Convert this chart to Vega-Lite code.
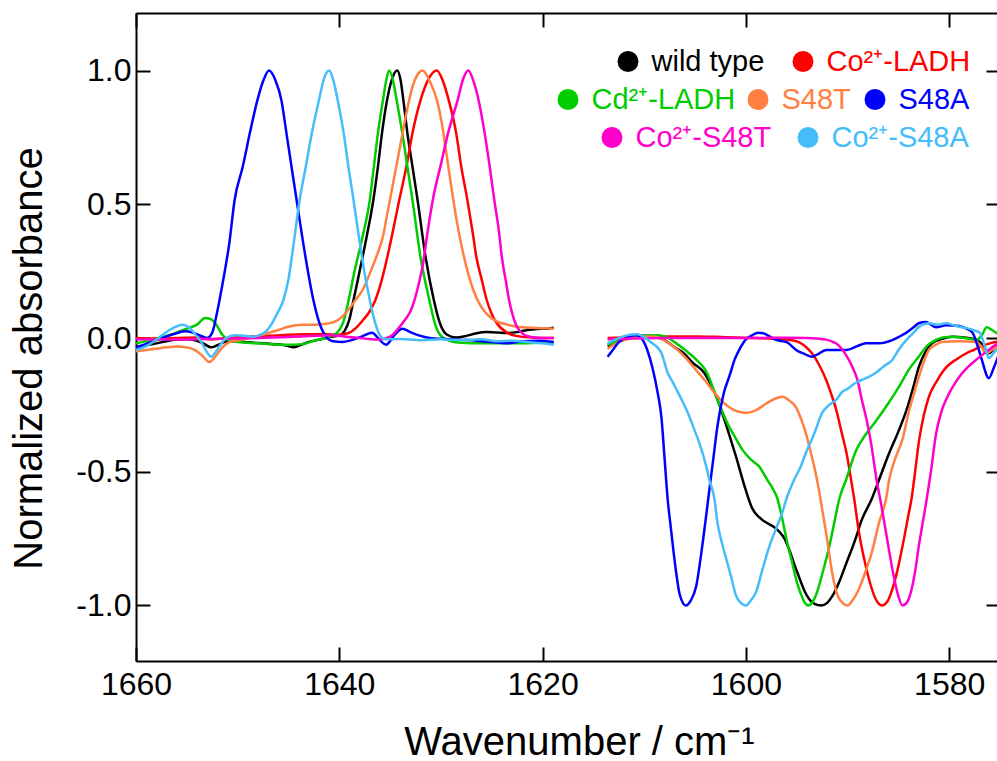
{
  "$schema": "https://vega.github.io/schema/vega-lite/v6.json",
  "width": 864,
  "height": 648,
  "autosize": {"type": "none"},
  "padding": {"left": 136, "top": 13, "right": 0, "bottom": 100},
  "background": "white",
  "config": {
    "font": "Liberation Sans",
    "view": {"stroke": null},
    "axis": {
      "domainColor": "#000000", "domainWidth": 2,
      "tickColor": "#000000", "tickWidth": 2, "tickSize": -14,
      "grid": false,
      "labelColor": "#000000", "labelFontSize": 32, "labelPadding": 22,
      "labelFlush": false, "labelOverlap": false,
      "titleColor": "#000000", "titleFontSize": 40, "titleFontWeight": "normal"
    },
    "legend": {
      "orient": "none", "direction": "horizontal", "title": null,
      "symbolType": "circle", "symbolSize": 110, "symbolStrokeWidth": 10.5,
      "labelFontSize": 29, "labelOffset": 9,
      "padding": 0, "labelLimit": 400
    }
  },
  "data": {
    "values": [
      {"sample":"wild type","seg":"L","wn":1660,"abs":-0.035},{"sample":"wild type","seg":"L","wn":1659,"abs":-0.028},{"sample":"wild type","seg":"L","wn":1658,"abs":-0.02},{"sample":"wild type","seg":"L","wn":1657,"abs":-0.012},{"sample":"wild type","seg":"L","wn":1656,"abs":-0.006},{"sample":"wild type","seg":"L","wn":1655,"abs":-0.005},{"sample":"wild type","seg":"L","wn":1654,"abs":-0.01},{"sample":"wild type","seg":"L","wn":1653.3,"abs":-0.022},{"sample":"wild type","seg":"L","wn":1652.6,"abs":-0.035},{"sample":"wild type","seg":"L","wn":1652,"abs":-0.027},{"sample":"wild type","seg":"L","wn":1651,"abs":-0.012},{"sample":"wild type","seg":"L","wn":1650,"abs":-0.013},{"sample":"wild type","seg":"L","wn":1649,"abs":-0.016},{"sample":"wild type","seg":"L","wn":1648,"abs":-0.019},{"sample":"wild type","seg":"L","wn":1647,"abs":-0.021},{"sample":"wild type","seg":"L","wn":1646,"abs":-0.024},{"sample":"wild type","seg":"L","wn":1645.2,"abs":-0.028},{"sample":"wild type","seg":"L","wn":1644.5,"abs":-0.035},{"sample":"wild type","seg":"L","wn":1643.8,"abs":-0.026},{"sample":"wild type","seg":"L","wn":1643,"abs":-0.015},{"sample":"wild type","seg":"L","wn":1642,"abs":-0.006},{"sample":"wild type","seg":"L","wn":1641,"abs":0.003},{"sample":"wild type","seg":"L","wn":1640,"abs":0.01},{"sample":"wild type","seg":"L","wn":1639.5,"abs":0.025},{"sample":"wild type","seg":"L","wn":1639,"abs":0.07},{"sample":"wild type","seg":"L","wn":1638.6,"abs":0.142},{"sample":"wild type","seg":"L","wn":1638,"abs":0.25},{"sample":"wild type","seg":"L","wn":1637.3,"abs":0.38},{"sample":"wild type","seg":"L","wn":1636.65,"abs":0.516},{"sample":"wild type","seg":"L","wn":1636.2,"abs":0.64},{"sample":"wild type","seg":"L","wn":1635.8,"abs":0.766},{"sample":"wild type","seg":"L","wn":1635.3,"abs":0.89},{"sample":"wild type","seg":"L","wn":1634.8,"abs":0.97},{"sample":"wild type","seg":"L","wn":1634.3,"abs":1.0},{"sample":"wild type","seg":"L","wn":1633.95,"abs":0.96},{"sample":"wild type","seg":"L","wn":1633.7,"abs":0.89},{"sample":"wild type","seg":"L","wn":1633.3,"abs":0.766},{"sample":"wild type","seg":"L","wn":1632.8,"abs":0.64},{"sample":"wild type","seg":"L","wn":1632.3,"abs":0.516},{"sample":"wild type","seg":"L","wn":1631.5,"abs":0.3},{"sample":"wild type","seg":"L","wn":1630.7,"abs":0.142},{"sample":"wild type","seg":"L","wn":1630.1,"abs":0.055},{"sample":"wild type","seg":"L","wn":1629.4,"abs":0.012},{"sample":"wild type","seg":"L","wn":1628.5,"abs":0.002},{"sample":"wild type","seg":"L","wn":1627.5,"abs":0.008},{"sample":"wild type","seg":"L","wn":1626.5,"abs":0.018},{"sample":"wild type","seg":"L","wn":1625.5,"abs":0.022},{"sample":"wild type","seg":"L","wn":1624.5,"abs":0.021},{"sample":"wild type","seg":"L","wn":1623.5,"abs":0.019},{"sample":"wild type","seg":"L","wn":1622.5,"abs":0.022},{"sample":"wild type","seg":"L","wn":1621.5,"abs":0.03},{"sample":"wild type","seg":"L","wn":1620.5,"abs":0.034},{"sample":"wild type","seg":"L","wn":1619.5,"abs":0.035},{"sample":"wild type","seg":"L","wn":1618.9,"abs":0.038},
      {"sample":"wild type","seg":"R","wn":1613.6,"abs":-0.03},{"sample":"wild type","seg":"R","wn":1612.5,"abs":-0.01},{"sample":"wild type","seg":"R","wn":1611.2,"abs":0.005},{"sample":"wild type","seg":"R","wn":1610,"abs":0.008},{"sample":"wild type","seg":"R","wn":1608.8,"abs":0.004},{"sample":"wild type","seg":"R","wn":1608,"abs":-0.008},{"sample":"wild type","seg":"R","wn":1607,"abs":-0.035},{"sample":"wild type","seg":"R","wn":1606,"abs":-0.06},{"sample":"wild type","seg":"R","wn":1605.3,"abs":-0.09},{"sample":"wild type","seg":"R","wn":1604.1,"abs":-0.13},{"sample":"wild type","seg":"R","wn":1603.5,"abs":-0.17},{"sample":"wild type","seg":"R","wn":1602.9,"abs":-0.22},{"sample":"wild type","seg":"R","wn":1601.9,"abs":-0.33},{"sample":"wild type","seg":"R","wn":1601,"abs":-0.44},{"sample":"wild type","seg":"R","wn":1600,"abs":-0.57},{"sample":"wild type","seg":"R","wn":1599.4,"abs":-0.635},{"sample":"wild type","seg":"R","wn":1598.7,"abs":-0.67},{"sample":"wild type","seg":"R","wn":1598,"abs":-0.69},{"sample":"wild type","seg":"R","wn":1597.3,"abs":-0.705},{"sample":"wild type","seg":"R","wn":1596.7,"abs":-0.725},{"sample":"wild type","seg":"R","wn":1596.2,"abs":-0.75},{"sample":"wild type","seg":"R","wn":1595.75,"abs":-0.79},{"sample":"wild type","seg":"R","wn":1595.2,"abs":-0.85},{"sample":"wild type","seg":"R","wn":1594.8,"abs":-0.89},{"sample":"wild type","seg":"R","wn":1594.3,"abs":-0.94},{"sample":"wild type","seg":"R","wn":1593.8,"abs":-0.975},{"sample":"wild type","seg":"R","wn":1593.2,"abs":-0.995},{"sample":"wild type","seg":"R","wn":1592.6,"abs":-1.0},{"sample":"wild type","seg":"R","wn":1592,"abs":-0.99},{"sample":"wild type","seg":"R","wn":1591.5,"abs":-0.965},{"sample":"wild type","seg":"R","wn":1590.8,"abs":-0.91},{"sample":"wild type","seg":"R","wn":1590.1,"abs":-0.84},{"sample":"wild type","seg":"R","wn":1589.3,"abs":-0.76},{"sample":"wild type","seg":"R","wn":1588.6,"abs":-0.68},{"sample":"wild type","seg":"R","wn":1587.6,"abs":-0.6},{"sample":"wild type","seg":"R","wn":1586.9,"abs":-0.53},{"sample":"wild type","seg":"R","wn":1585.9,"abs":-0.43},{"sample":"wild type","seg":"R","wn":1585,"abs":-0.35},{"sample":"wild type","seg":"R","wn":1584.2,"abs":-0.27},{"sample":"wild type","seg":"R","wn":1583.5,"abs":-0.18},{"sample":"wild type","seg":"R","wn":1583,"abs":-0.11},{"sample":"wild type","seg":"R","wn":1582.3,"abs":-0.05},{"sample":"wild type","seg":"R","wn":1581.7,"abs":-0.02},{"sample":"wild type","seg":"R","wn":1580.7,"abs":-0.003},{"sample":"wild type","seg":"R","wn":1579.7,"abs":0.005},{"sample":"wild type","seg":"R","wn":1578.5,"abs":0.002},{"sample":"wild type","seg":"R","wn":1577.3,"abs":-0.007},{"sample":"wild type","seg":"R","wn":1576.6,"abs":-0.03},{"sample":"wild type","seg":"R","wn":1576.1,"abs":-0.057},{"sample":"wild type","seg":"R","wn":1575.6,"abs":-0.04},{"sample":"wild type","seg":"R","wn":1575,"abs":-0.015},

      {"sample":"Co²⁺-LADH","seg":"L","wn":1660,"abs":0.0},{"sample":"Co²⁺-LADH","seg":"L","wn":1658,"abs":-0.002},{"sample":"Co²⁺-LADH","seg":"L","wn":1656,"abs":0.0},{"sample":"Co²⁺-LADH","seg":"L","wn":1654,"abs":0.002},{"sample":"Co²⁺-LADH","seg":"L","wn":1652.5,"abs":-0.005},{"sample":"Co²⁺-LADH","seg":"L","wn":1651,"abs":0.0},{"sample":"Co²⁺-LADH","seg":"L","wn":1649,"abs":0.005},{"sample":"Co²⁺-LADH","seg":"L","wn":1647,"abs":0.008},{"sample":"Co²⁺-LADH","seg":"L","wn":1645,"abs":0.012},{"sample":"Co²⁺-LADH","seg":"L","wn":1643,"abs":0.014},{"sample":"Co²⁺-LADH","seg":"L","wn":1641.5,"abs":0.015},{"sample":"Co²⁺-LADH","seg":"L","wn":1640,"abs":0.012},{"sample":"Co²⁺-LADH","seg":"L","wn":1639,"abs":0.02},{"sample":"Co²⁺-LADH","seg":"L","wn":1638.3,"abs":0.04},{"sample":"Co²⁺-LADH","seg":"L","wn":1637.6,"abs":0.07},{"sample":"Co²⁺-LADH","seg":"L","wn":1637,"abs":0.1},{"sample":"Co²⁺-LADH","seg":"L","wn":1636.45,"abs":0.142},{"sample":"Co²⁺-LADH","seg":"L","wn":1635.8,"abs":0.22},{"sample":"Co²⁺-LADH","seg":"L","wn":1635,"abs":0.35},{"sample":"Co²⁺-LADH","seg":"L","wn":1634.1,"abs":0.516},{"sample":"Co²⁺-LADH","seg":"L","wn":1633.4,"abs":0.64},{"sample":"Co²⁺-LADH","seg":"L","wn":1632.8,"abs":0.766},{"sample":"Co²⁺-LADH","seg":"L","wn":1632,"abs":0.89},{"sample":"Co²⁺-LADH","seg":"L","wn":1631.2,"abs":0.97},{"sample":"Co²⁺-LADH","seg":"L","wn":1630.4,"abs":1.0},{"sample":"Co²⁺-LADH","seg":"L","wn":1629.8,"abs":0.96},{"sample":"Co²⁺-LADH","seg":"L","wn":1629.24,"abs":0.89},{"sample":"Co²⁺-LADH","seg":"L","wn":1628.5,"abs":0.766},{"sample":"Co²⁺-LADH","seg":"L","wn":1628,"abs":0.64},{"sample":"Co²⁺-LADH","seg":"L","wn":1627.4,"abs":0.516},{"sample":"Co²⁺-LADH","seg":"L","wn":1626.9,"abs":0.4},{"sample":"Co²⁺-LADH","seg":"L","wn":1626.5,"abs":0.3},{"sample":"Co²⁺-LADH","seg":"L","wn":1626,"abs":0.22},{"sample":"Co²⁺-LADH","seg":"L","wn":1625.5,"abs":0.142},{"sample":"Co²⁺-LADH","seg":"L","wn":1625,"abs":0.09},{"sample":"Co²⁺-LADH","seg":"L","wn":1624.5,"abs":0.055},{"sample":"Co²⁺-LADH","seg":"L","wn":1623.5,"abs":0.02},{"sample":"Co²⁺-LADH","seg":"L","wn":1622.5,"abs":0.007},{"sample":"Co²⁺-LADH","seg":"L","wn":1621,"abs":0.002},{"sample":"Co²⁺-LADH","seg":"L","wn":1619.5,"abs":0.0},{"sample":"Co²⁺-LADH","seg":"L","wn":1618.9,"abs":0.0},
      {"sample":"Co²⁺-LADH","seg":"R","wn":1613.6,"abs":0.0},{"sample":"Co²⁺-LADH","seg":"R","wn":1611,"abs":0.004},{"sample":"Co²⁺-LADH","seg":"R","wn":1608,"abs":0.006},{"sample":"Co²⁺-LADH","seg":"R","wn":1605,"abs":0.006},{"sample":"Co²⁺-LADH","seg":"R","wn":1602,"abs":0.003},{"sample":"Co²⁺-LADH","seg":"R","wn":1599,"abs":0.0},{"sample":"Co²⁺-LADH","seg":"R","wn":1597,"abs":-0.004},{"sample":"Co²⁺-LADH","seg":"R","wn":1595.5,"abs":-0.008},{"sample":"Co²⁺-LADH","seg":"R","wn":1594.8,"abs":-0.015},{"sample":"Co²⁺-LADH","seg":"R","wn":1594.2,"abs":-0.03},{"sample":"Co²⁺-LADH","seg":"R","wn":1593.5,"abs":-0.057},{"sample":"Co²⁺-LADH","seg":"R","wn":1592.8,"abs":-0.1},{"sample":"Co²⁺-LADH","seg":"R","wn":1592.1,"abs":-0.157},{"sample":"Co²⁺-LADH","seg":"R","wn":1591.6,"abs":-0.21},{"sample":"Co²⁺-LADH","seg":"R","wn":1591.1,"abs":-0.27},{"sample":"Co²⁺-LADH","seg":"R","wn":1590.6,"abs":-0.35},{"sample":"Co²⁺-LADH","seg":"R","wn":1590.1,"abs":-0.43},{"sample":"Co²⁺-LADH","seg":"R","wn":1589.65,"abs":-0.53},{"sample":"Co²⁺-LADH","seg":"R","wn":1589.35,"abs":-0.6},{"sample":"Co²⁺-LADH","seg":"R","wn":1588.9,"abs":-0.72},{"sample":"Co²⁺-LADH","seg":"R","wn":1588.4,"abs":-0.82},{"sample":"Co²⁺-LADH","seg":"R","wn":1587.9,"abs":-0.9},{"sample":"Co²⁺-LADH","seg":"R","wn":1587.3,"abs":-0.97},{"sample":"Co²⁺-LADH","seg":"R","wn":1586.6,"abs":-1.0},{"sample":"Co²⁺-LADH","seg":"R","wn":1586,"abs":-0.98},{"sample":"Co²⁺-LADH","seg":"R","wn":1585.6,"abs":-0.94},{"sample":"Co²⁺-LADH","seg":"R","wn":1585.1,"abs":-0.87},{"sample":"Co²⁺-LADH","seg":"R","wn":1584.6,"abs":-0.78},{"sample":"Co²⁺-LADH","seg":"R","wn":1584,"abs":-0.66},{"sample":"Co²⁺-LADH","seg":"R","wn":1583.7,"abs":-0.6},{"sample":"Co²⁺-LADH","seg":"R","wn":1583.45,"abs":-0.53},{"sample":"Co²⁺-LADH","seg":"R","wn":1582.95,"abs":-0.38},{"sample":"Co²⁺-LADH","seg":"R","wn":1582.5,"abs":-0.29},{"sample":"Co²⁺-LADH","seg":"R","wn":1582,"abs":-0.22},{"sample":"Co²⁺-LADH","seg":"R","wn":1581.2,"abs":-0.16},{"sample":"Co²⁺-LADH","seg":"R","wn":1580.3,"abs":-0.11},{"sample":"Co²⁺-LADH","seg":"R","wn":1579.3,"abs":-0.08},{"sample":"Co²⁺-LADH","seg":"R","wn":1578.3,"abs":-0.057},{"sample":"Co²⁺-LADH","seg":"R","wn":1577.5,"abs":-0.043},{"sample":"Co²⁺-LADH","seg":"R","wn":1576.8,"abs":-0.03},{"sample":"Co²⁺-LADH","seg":"R","wn":1576,"abs":-0.02},{"sample":"Co²⁺-LADH","seg":"R","wn":1575,"abs":-0.012},

      {"sample":"Cd²⁺-LADH","seg":"L","wn":1660,"abs":-0.02},{"sample":"Cd²⁺-LADH","seg":"L","wn":1659,"abs":-0.012},{"sample":"Cd²⁺-LADH","seg":"L","wn":1658,"abs":-0.004},{"sample":"Cd²⁺-LADH","seg":"L","wn":1657,"abs":0.008},{"sample":"Cd²⁺-LADH","seg":"L","wn":1656,"abs":0.02},{"sample":"Cd²⁺-LADH","seg":"L","wn":1655,"abs":0.035},{"sample":"Cd²⁺-LADH","seg":"L","wn":1654,"abs":0.05},{"sample":"Cd²⁺-LADH","seg":"L","wn":1653.2,"abs":0.075},{"sample":"Cd²⁺-LADH","seg":"L","wn":1652.6,"abs":0.07},{"sample":"Cd²⁺-LADH","seg":"L","wn":1652.1,"abs":0.05},{"sample":"Cd²⁺-LADH","seg":"L","wn":1651.5,"abs":0.012},{"sample":"Cd²⁺-LADH","seg":"L","wn":1651,"abs":-0.005},{"sample":"Cd²⁺-LADH","seg":"L","wn":1650,"abs":-0.015},{"sample":"Cd²⁺-LADH","seg":"L","wn":1649,"abs":-0.018},{"sample":"Cd²⁺-LADH","seg":"L","wn":1648,"abs":-0.02},{"sample":"Cd²⁺-LADH","seg":"L","wn":1647,"abs":-0.022},{"sample":"Cd²⁺-LADH","seg":"L","wn":1646,"abs":-0.025},{"sample":"Cd²⁺-LADH","seg":"L","wn":1645,"abs":-0.025},{"sample":"Cd²⁺-LADH","seg":"L","wn":1644,"abs":-0.024},{"sample":"Cd²⁺-LADH","seg":"L","wn":1643.3,"abs":-0.02},{"sample":"Cd²⁺-LADH","seg":"L","wn":1642.5,"abs":-0.01},{"sample":"Cd²⁺-LADH","seg":"L","wn":1641.5,"abs":-0.002},{"sample":"Cd²⁺-LADH","seg":"L","wn":1640.8,"abs":0.008},{"sample":"Cd²⁺-LADH","seg":"L","wn":1640.2,"abs":0.02},{"sample":"Cd²⁺-LADH","seg":"L","wn":1639.6,"abs":0.06},{"sample":"Cd²⁺-LADH","seg":"L","wn":1639.08,"abs":0.142},{"sample":"Cd²⁺-LADH","seg":"L","wn":1638.5,"abs":0.25},{"sample":"Cd²⁺-LADH","seg":"L","wn":1637.7,"abs":0.38},{"sample":"Cd²⁺-LADH","seg":"L","wn":1637,"abs":0.516},{"sample":"Cd²⁺-LADH","seg":"L","wn":1636.6,"abs":0.64},{"sample":"Cd²⁺-LADH","seg":"L","wn":1636.2,"abs":0.766},{"sample":"Cd²⁺-LADH","seg":"L","wn":1635.7,"abs":0.89},{"sample":"Cd²⁺-LADH","seg":"L","wn":1635.4,"abs":0.96},{"sample":"Cd²⁺-LADH","seg":"L","wn":1635.1,"abs":1.0},{"sample":"Cd²⁺-LADH","seg":"L","wn":1634.7,"abs":0.96},{"sample":"Cd²⁺-LADH","seg":"L","wn":1634.36,"abs":0.89},{"sample":"Cd²⁺-LADH","seg":"L","wn":1633.8,"abs":0.766},{"sample":"Cd²⁺-LADH","seg":"L","wn":1633.3,"abs":0.64},{"sample":"Cd²⁺-LADH","seg":"L","wn":1632.8,"abs":0.516},{"sample":"Cd²⁺-LADH","seg":"L","wn":1632,"abs":0.3},{"sample":"Cd²⁺-LADH","seg":"L","wn":1631.14,"abs":0.142},{"sample":"Cd²⁺-LADH","seg":"L","wn":1630.6,"abs":0.055},{"sample":"Cd²⁺-LADH","seg":"L","wn":1630,"abs":0.008},{"sample":"Cd²⁺-LADH","seg":"L","wn":1629,"abs":-0.012},{"sample":"Cd²⁺-LADH","seg":"L","wn":1628,"abs":-0.018},{"sample":"Cd²⁺-LADH","seg":"L","wn":1626,"abs":-0.02},{"sample":"Cd²⁺-LADH","seg":"L","wn":1624,"abs":-0.02},{"sample":"Cd²⁺-LADH","seg":"L","wn":1622,"abs":-0.02},{"sample":"Cd²⁺-LADH","seg":"L","wn":1620,"abs":-0.018},{"sample":"Cd²⁺-LADH","seg":"L","wn":1618.9,"abs":-0.018},
      {"sample":"Cd²⁺-LADH","seg":"R","wn":1613.6,"abs":-0.025},{"sample":"Cd²⁺-LADH","seg":"R","wn":1612.5,"abs":-0.012},{"sample":"Cd²⁺-LADH","seg":"R","wn":1611.2,"abs":0.0},{"sample":"Cd²⁺-LADH","seg":"R","wn":1610,"abs":0.008},{"sample":"Cd²⁺-LADH","seg":"R","wn":1608.8,"abs":0.01},{"sample":"Cd²⁺-LADH","seg":"R","wn":1608,"abs":0.006},{"sample":"Cd²⁺-LADH","seg":"R","wn":1606.85,"abs":-0.02},{"sample":"Cd²⁺-LADH","seg":"R","wn":1605.8,"abs":-0.05},{"sample":"Cd²⁺-LADH","seg":"R","wn":1604.9,"abs":-0.08},{"sample":"Cd²⁺-LADH","seg":"R","wn":1603.9,"abs":-0.125},{"sample":"Cd²⁺-LADH","seg":"R","wn":1602.9,"abs":-0.22},{"sample":"Cd²⁺-LADH","seg":"R","wn":1601.8,"abs":-0.32},{"sample":"Cd²⁺-LADH","seg":"R","wn":1601,"abs":-0.375},{"sample":"Cd²⁺-LADH","seg":"R","wn":1600.3,"abs":-0.42},{"sample":"Cd²⁺-LADH","seg":"R","wn":1599.5,"abs":-0.455},{"sample":"Cd²⁺-LADH","seg":"R","wn":1598.7,"abs":-0.48},{"sample":"Cd²⁺-LADH","seg":"R","wn":1597.9,"abs":-0.53},{"sample":"Cd²⁺-LADH","seg":"R","wn":1597.4,"abs":-0.56},{"sample":"Cd²⁺-LADH","seg":"R","wn":1596.9,"abs":-0.6},{"sample":"Cd²⁺-LADH","seg":"R","wn":1596.4,"abs":-0.68},{"sample":"Cd²⁺-LADH","seg":"R","wn":1595.9,"abs":-0.77},{"sample":"Cd²⁺-LADH","seg":"R","wn":1595.44,"abs":-0.84},{"sample":"Cd²⁺-LADH","seg":"R","wn":1595,"abs":-0.91},{"sample":"Cd²⁺-LADH","seg":"R","wn":1594.56,"abs":-0.96},{"sample":"Cd²⁺-LADH","seg":"R","wn":1594.2,"abs":-0.99},{"sample":"Cd²⁺-LADH","seg":"R","wn":1593.87,"abs":-1.0},{"sample":"Cd²⁺-LADH","seg":"R","wn":1593.4,"abs":-0.985},{"sample":"Cd²⁺-LADH","seg":"R","wn":1593,"abs":-0.95},{"sample":"Cd²⁺-LADH","seg":"R","wn":1592.4,"abs":-0.87},{"sample":"Cd²⁺-LADH","seg":"R","wn":1591.8,"abs":-0.78},{"sample":"Cd²⁺-LADH","seg":"R","wn":1591.3,"abs":-0.69},{"sample":"Cd²⁺-LADH","seg":"R","wn":1590.8,"abs":-0.6},{"sample":"Cd²⁺-LADH","seg":"R","wn":1590.14,"abs":-0.53},{"sample":"Cd²⁺-LADH","seg":"R","wn":1589.15,"abs":-0.42},{"sample":"Cd²⁺-LADH","seg":"R","wn":1588.2,"abs":-0.36},{"sample":"Cd²⁺-LADH","seg":"R","wn":1587.2,"abs":-0.31},{"sample":"Cd²⁺-LADH","seg":"R","wn":1586,"abs":-0.245},{"sample":"Cd²⁺-LADH","seg":"R","wn":1584.9,"abs":-0.18},{"sample":"Cd²⁺-LADH","seg":"R","wn":1584,"abs":-0.12},{"sample":"Cd²⁺-LADH","seg":"R","wn":1583,"abs":-0.07},{"sample":"Cd²⁺-LADH","seg":"R","wn":1582.2,"abs":-0.03},{"sample":"Cd²⁺-LADH","seg":"R","wn":1581.3,"abs":-0.007},{"sample":"Cd²⁺-LADH","seg":"R","wn":1580.5,"abs":0.003},{"sample":"Cd²⁺-LADH","seg":"R","wn":1579.7,"abs":0.005},{"sample":"Cd²⁺-LADH","seg":"R","wn":1578.5,"abs":0.0},{"sample":"Cd²⁺-LADH","seg":"R","wn":1577.3,"abs":-0.007},{"sample":"Cd²⁺-LADH","seg":"R","wn":1576.8,"abs":0.01},{"sample":"Cd²⁺-LADH","seg":"R","wn":1576.3,"abs":0.04},{"sample":"Cd²⁺-LADH","seg":"R","wn":1575.8,"abs":0.03},{"sample":"Cd²⁺-LADH","seg":"R","wn":1575,"abs":0.01},

      {"sample":"S48T","seg":"L","wn":1660,"abs":-0.05},{"sample":"S48T","seg":"L","wn":1659,"abs":-0.045},{"sample":"S48T","seg":"L","wn":1658,"abs":-0.04},{"sample":"S48T","seg":"L","wn":1657,"abs":-0.035},{"sample":"S48T","seg":"L","wn":1656,"abs":-0.032},{"sample":"S48T","seg":"L","wn":1655,"abs":-0.035},{"sample":"S48T","seg":"L","wn":1654.2,"abs":-0.045},{"sample":"S48T","seg":"L","wn":1653.5,"abs":-0.065},{"sample":"S48T","seg":"L","wn":1652.8,"abs":-0.09},{"sample":"S48T","seg":"L","wn":1652.2,"abs":-0.07},{"sample":"S48T","seg":"L","wn":1651.5,"abs":-0.035},{"sample":"S48T","seg":"L","wn":1650.8,"abs":-0.015},{"sample":"S48T","seg":"L","wn":1649.8,"abs":-0.008},{"sample":"S48T","seg":"L","wn":1648.5,"abs":0.003},{"sample":"S48T","seg":"L","wn":1647.5,"abs":0.013},{"sample":"S48T","seg":"L","wn":1646.9,"abs":0.02},{"sample":"S48T","seg":"L","wn":1646,"abs":0.03},{"sample":"S48T","seg":"L","wn":1645.2,"abs":0.04},{"sample":"S48T","seg":"L","wn":1644.3,"abs":0.048},{"sample":"S48T","seg":"L","wn":1643.5,"abs":0.05},{"sample":"S48T","seg":"L","wn":1642.5,"abs":0.05},{"sample":"S48T","seg":"L","wn":1641.5,"abs":0.052},{"sample":"S48T","seg":"L","wn":1640.5,"abs":0.06},{"sample":"S48T","seg":"L","wn":1639.7,"abs":0.08},{"sample":"S48T","seg":"L","wn":1639,"abs":0.11},{"sample":"S48T","seg":"L","wn":1638.4,"abs":0.142},{"sample":"S48T","seg":"L","wn":1637.7,"abs":0.18},{"sample":"S48T","seg":"L","wn":1636.8,"abs":0.26},{"sample":"S48T","seg":"L","wn":1636.2,"abs":0.32},{"sample":"S48T","seg":"L","wn":1635.7,"abs":0.38},{"sample":"S48T","seg":"L","wn":1635.3,"abs":0.46},{"sample":"S48T","seg":"L","wn":1635,"abs":0.52},{"sample":"S48T","seg":"L","wn":1634.5,"abs":0.62},{"sample":"S48T","seg":"L","wn":1634.1,"abs":0.7},{"sample":"S48T","seg":"L","wn":1633.4,"abs":0.84},{"sample":"S48T","seg":"L","wn":1632.8,"abs":0.94},{"sample":"S48T","seg":"L","wn":1632.3,"abs":0.985},{"sample":"S48T","seg":"L","wn":1631.8,"abs":1.0},{"sample":"S48T","seg":"L","wn":1631.1,"abs":0.96},{"sample":"S48T","seg":"L","wn":1630.4,"abs":0.89},{"sample":"S48T","seg":"L","wn":1629.9,"abs":0.8},{"sample":"S48T","seg":"L","wn":1629.5,"abs":0.7},{"sample":"S48T","seg":"L","wn":1629,"abs":0.57},{"sample":"S48T","seg":"L","wn":1628.5,"abs":0.45},{"sample":"S48T","seg":"L","wn":1628,"abs":0.35},{"sample":"S48T","seg":"L","wn":1627.5,"abs":0.267},{"sample":"S48T","seg":"L","wn":1627,"abs":0.2},{"sample":"S48T","seg":"L","wn":1626.5,"abs":0.15},{"sample":"S48T","seg":"L","wn":1626,"abs":0.115},{"sample":"S48T","seg":"L","wn":1625.5,"abs":0.09},{"sample":"S48T","seg":"L","wn":1624.5,"abs":0.062},{"sample":"S48T","seg":"L","wn":1623.5,"abs":0.05},{"sample":"S48T","seg":"L","wn":1622.5,"abs":0.042},{"sample":"S48T","seg":"L","wn":1621,"abs":0.038},{"sample":"S48T","seg":"L","wn":1619.5,"abs":0.036},{"sample":"S48T","seg":"L","wn":1618.9,"abs":0.035},
      {"sample":"S48T","seg":"R","wn":1613.6,"abs":-0.04},{"sample":"S48T","seg":"R","wn":1612.5,"abs":-0.015},{"sample":"S48T","seg":"R","wn":1611.2,"abs":0.0},{"sample":"S48T","seg":"R","wn":1610,"abs":0.006},{"sample":"S48T","seg":"R","wn":1608.8,"abs":0.005},{"sample":"S48T","seg":"R","wn":1608,"abs":-0.01},{"sample":"S48T","seg":"R","wn":1606.85,"abs":-0.04},{"sample":"S48T","seg":"R","wn":1605.9,"abs":-0.075},{"sample":"S48T","seg":"R","wn":1604.9,"abs":-0.12},{"sample":"S48T","seg":"R","wn":1604,"abs":-0.16},{"sample":"S48T","seg":"R","wn":1603.3,"abs":-0.195},{"sample":"S48T","seg":"R","wn":1602.5,"abs":-0.23},{"sample":"S48T","seg":"R","wn":1601.6,"abs":-0.26},{"sample":"S48T","seg":"R","wn":1600.8,"abs":-0.275},{"sample":"S48T","seg":"R","wn":1599.9,"abs":-0.28},{"sample":"S48T","seg":"R","wn":1599,"abs":-0.27},{"sample":"S48T","seg":"R","wn":1598,"abs":-0.245},{"sample":"S48T","seg":"R","wn":1597.2,"abs":-0.228},{"sample":"S48T","seg":"R","wn":1596.4,"abs":-0.22},{"sample":"S48T","seg":"R","wn":1595.7,"abs":-0.235},{"sample":"S48T","seg":"R","wn":1595.05,"abs":-0.26},{"sample":"S48T","seg":"R","wn":1594.5,"abs":-0.31},{"sample":"S48T","seg":"R","wn":1594.07,"abs":-0.36},{"sample":"S48T","seg":"R","wn":1593.6,"abs":-0.43},{"sample":"S48T","seg":"R","wn":1593.28,"abs":-0.48},{"sample":"S48T","seg":"R","wn":1592.9,"abs":-0.55},{"sample":"S48T","seg":"R","wn":1592.5,"abs":-0.64},{"sample":"S48T","seg":"R","wn":1592.1,"abs":-0.73},{"sample":"S48T","seg":"R","wn":1591.5,"abs":-0.88},{"sample":"S48T","seg":"R","wn":1591,"abs":-0.96},{"sample":"S48T","seg":"R","wn":1590.5,"abs":-0.99},{"sample":"S48T","seg":"R","wn":1590,"abs":-1.0},{"sample":"S48T","seg":"R","wn":1589.5,"abs":-0.98},{"sample":"S48T","seg":"R","wn":1588.9,"abs":-0.94},{"sample":"S48T","seg":"R","wn":1588.2,"abs":-0.87},{"sample":"S48T","seg":"R","wn":1587.6,"abs":-0.8},{"sample":"S48T","seg":"R","wn":1586.9,"abs":-0.69},{"sample":"S48T","seg":"R","wn":1586.2,"abs":-0.6},{"sample":"S48T","seg":"R","wn":1585.9,"abs":-0.53},{"sample":"S48T","seg":"R","wn":1585.3,"abs":-0.45},{"sample":"S48T","seg":"R","wn":1584.6,"abs":-0.38},{"sample":"S48T","seg":"R","wn":1584,"abs":-0.28},{"sample":"S48T","seg":"R","wn":1583.25,"abs":-0.18},{"sample":"S48T","seg":"R","wn":1582.6,"abs":-0.1},{"sample":"S48T","seg":"R","wn":1582,"abs":-0.045},{"sample":"S48T","seg":"R","wn":1581.3,"abs":-0.025},{"sample":"S48T","seg":"R","wn":1580.7,"abs":-0.015},{"sample":"S48T","seg":"R","wn":1579,"abs":-0.012},{"sample":"S48T","seg":"R","wn":1577.3,"abs":-0.015},{"sample":"S48T","seg":"R","wn":1576.8,"abs":-0.035},{"sample":"S48T","seg":"R","wn":1576.4,"abs":-0.057},{"sample":"S48T","seg":"R","wn":1575.8,"abs":-0.045},{"sample":"S48T","seg":"R","wn":1575,"abs":-0.025},

      {"sample":"S48A","seg":"L","wn":1660,"abs":-0.035},{"sample":"S48A","seg":"L","wn":1659,"abs":-0.022},{"sample":"S48A","seg":"L","wn":1658,"abs":-0.008},{"sample":"S48A","seg":"L","wn":1657,"abs":0.006},{"sample":"S48A","seg":"L","wn":1656,"abs":0.018},{"sample":"S48A","seg":"L","wn":1655.2,"abs":0.025},{"sample":"S48A","seg":"L","wn":1654.4,"abs":0.02},{"sample":"S48A","seg":"L","wn":1653.6,"abs":0.008},{"sample":"S48A","seg":"L","wn":1653,"abs":0.0},{"sample":"S48A","seg":"L","wn":1652.5,"abs":0.02},{"sample":"S48A","seg":"L","wn":1652,"abs":0.1},{"sample":"S48A","seg":"L","wn":1651.5,"abs":0.2},{"sample":"S48A","seg":"L","wn":1650.8,"abs":0.36},{"sample":"S48A","seg":"L","wn":1650.3,"abs":0.516},{"sample":"S48A","seg":"L","wn":1649.5,"abs":0.64},{"sample":"S48A","seg":"L","wn":1648.8,"abs":0.766},{"sample":"S48A","seg":"L","wn":1648.05,"abs":0.89},{"sample":"S48A","seg":"L","wn":1647.5,"abs":0.96},{"sample":"S48A","seg":"L","wn":1646.9,"abs":1.0},{"sample":"S48A","seg":"L","wn":1646.3,"abs":0.965},{"sample":"S48A","seg":"L","wn":1645.7,"abs":0.89},{"sample":"S48A","seg":"L","wn":1645.2,"abs":0.766},{"sample":"S48A","seg":"L","wn":1644.7,"abs":0.64},{"sample":"S48A","seg":"L","wn":1644.2,"abs":0.516},{"sample":"S48A","seg":"L","wn":1643.4,"abs":0.32},{"sample":"S48A","seg":"L","wn":1642.55,"abs":0.142},{"sample":"S48A","seg":"L","wn":1641.9,"abs":0.05},{"sample":"S48A","seg":"L","wn":1641.3,"abs":0.005},{"sample":"S48A","seg":"L","wn":1640.6,"abs":-0.012},{"sample":"S48A","seg":"L","wn":1639.7,"abs":-0.015},{"sample":"S48A","seg":"L","wn":1638.8,"abs":-0.008},{"sample":"S48A","seg":"L","wn":1637.8,"abs":0.005},{"sample":"S48A","seg":"L","wn":1636.75,"abs":0.02},{"sample":"S48A","seg":"L","wn":1636.2,"abs":0.0},{"sample":"S48A","seg":"L","wn":1635.4,"abs":-0.025},{"sample":"S48A","seg":"L","wn":1634.6,"abs":0.01},{"sample":"S48A","seg":"L","wn":1633.8,"abs":0.035},{"sample":"S48A","seg":"L","wn":1633,"abs":0.022},{"sample":"S48A","seg":"L","wn":1632,"abs":0.008},{"sample":"S48A","seg":"L","wn":1631.1,"abs":0.0},{"sample":"S48A","seg":"L","wn":1629.5,"abs":-0.004},{"sample":"S48A","seg":"L","wn":1628,"abs":-0.007},{"sample":"S48A","seg":"L","wn":1626.5,"abs":-0.01},{"sample":"S48A","seg":"L","wn":1625,"abs":-0.015},{"sample":"S48A","seg":"L","wn":1623.6,"abs":-0.02},{"sample":"S48A","seg":"L","wn":1622,"abs":-0.012},{"sample":"S48A","seg":"L","wn":1620.5,"abs":-0.01},{"sample":"S48A","seg":"L","wn":1618.9,"abs":-0.015},
      {"sample":"S48A","seg":"R","wn":1613.6,"abs":-0.07},{"sample":"S48A","seg":"R","wn":1613,"abs":-0.04},{"sample":"S48A","seg":"R","wn":1612.5,"abs":-0.015},{"sample":"S48A","seg":"R","wn":1611.5,"abs":0.005},{"sample":"S48A","seg":"R","wn":1610.8,"abs":0.01},{"sample":"S48A","seg":"R","wn":1610.2,"abs":-0.005},{"sample":"S48A","seg":"R","wn":1609.7,"abs":-0.045},{"sample":"S48A","seg":"R","wn":1609.2,"abs":-0.11},{"sample":"S48A","seg":"R","wn":1608.7,"abs":-0.2},{"sample":"S48A","seg":"R","wn":1608.3,"abs":-0.3},{"sample":"S48A","seg":"R","wn":1608,"abs":-0.45},{"sample":"S48A","seg":"R","wn":1607.7,"abs":-0.6},{"sample":"S48A","seg":"R","wn":1607.35,"abs":-0.72},{"sample":"S48A","seg":"R","wn":1606.95,"abs":-0.85},{"sample":"S48A","seg":"R","wn":1606.5,"abs":-0.96},{"sample":"S48A","seg":"R","wn":1605.9,"abs":-1.0},{"sample":"S48A","seg":"R","wn":1605.4,"abs":-0.98},{"sample":"S48A","seg":"R","wn":1604.9,"abs":-0.93},{"sample":"S48A","seg":"R","wn":1604.3,"abs":-0.78},{"sample":"S48A","seg":"R","wn":1603.6,"abs":-0.57},{"sample":"S48A","seg":"R","wn":1603.2,"abs":-0.45},{"sample":"S48A","seg":"R","wn":1602.8,"abs":-0.33},{"sample":"S48A","seg":"R","wn":1602.2,"abs":-0.21},{"sample":"S48A","seg":"R","wn":1601.6,"abs":-0.14},{"sample":"S48A","seg":"R","wn":1601.1,"abs":-0.08},{"sample":"S48A","seg":"R","wn":1600.6,"abs":-0.04},{"sample":"S48A","seg":"R","wn":1600,"abs":-0.005},{"sample":"S48A","seg":"R","wn":1599.4,"abs":0.01},{"sample":"S48A","seg":"R","wn":1598.8,"abs":0.02},{"sample":"S48A","seg":"R","wn":1598.3,"abs":0.018},{"sample":"S48A","seg":"R","wn":1597.4,"abs":0.0},{"sample":"S48A","seg":"R","wn":1596.7,"abs":-0.01},{"sample":"S48A","seg":"R","wn":1596,"abs":-0.015},{"sample":"S48A","seg":"R","wn":1595.5,"abs":-0.03},{"sample":"S48A","seg":"R","wn":1595.05,"abs":-0.045},{"sample":"S48A","seg":"R","wn":1594.2,"abs":-0.06},{"sample":"S48A","seg":"R","wn":1593.5,"abs":-0.07},{"sample":"S48A","seg":"R","wn":1592.8,"abs":-0.058},{"sample":"S48A","seg":"R","wn":1592.1,"abs":-0.045},{"sample":"S48A","seg":"R","wn":1591,"abs":-0.045},{"sample":"S48A","seg":"R","wn":1590.1,"abs":-0.045},{"sample":"S48A","seg":"R","wn":1589,"abs":-0.03},{"sample":"S48A","seg":"R","wn":1588.2,"abs":-0.02},{"sample":"S48A","seg":"R","wn":1586.9,"abs":-0.02},{"sample":"S48A","seg":"R","wn":1585.6,"abs":-0.008},{"sample":"S48A","seg":"R","wn":1584.9,"abs":0.005},{"sample":"S48A","seg":"R","wn":1584.2,"abs":0.02},{"sample":"S48A","seg":"R","wn":1583.5,"abs":0.04},{"sample":"S48A","seg":"R","wn":1583,"abs":0.055},{"sample":"S48A","seg":"R","wn":1582.3,"abs":0.06},{"sample":"S48A","seg":"R","wn":1581.3,"abs":0.04},{"sample":"S48A","seg":"R","wn":1580.3,"abs":0.048},{"sample":"S48A","seg":"R","wn":1579,"abs":0.045},{"sample":"S48A","seg":"R","wn":1578.3,"abs":0.035},{"sample":"S48A","seg":"R","wn":1577.7,"abs":0.02},{"sample":"S48A","seg":"R","wn":1577.2,"abs":-0.03},{"sample":"S48A","seg":"R","wn":1576.8,"abs":-0.08},{"sample":"S48A","seg":"R","wn":1576.1,"abs":-0.15},{"sample":"S48A","seg":"R","wn":1575.6,"abs":-0.11},{"sample":"S48A","seg":"R","wn":1575,"abs":-0.05},

      {"sample":"Co²⁺-S48T","seg":"L","wn":1660,"abs":-0.005},{"sample":"Co²⁺-S48T","seg":"L","wn":1657,"abs":-0.006},{"sample":"Co²⁺-S48T","seg":"L","wn":1654,"abs":-0.005},{"sample":"Co²⁺-S48T","seg":"L","wn":1651,"abs":-0.003},{"sample":"Co²⁺-S48T","seg":"L","wn":1648,"abs":0.0},{"sample":"Co²⁺-S48T","seg":"L","wn":1645,"abs":0.004},{"sample":"Co²⁺-S48T","seg":"L","wn":1642.5,"abs":0.008},{"sample":"Co²⁺-S48T","seg":"L","wn":1641,"abs":0.01},{"sample":"Co²⁺-S48T","seg":"L","wn":1639.5,"abs":0.006},{"sample":"Co²⁺-S48T","seg":"L","wn":1638,"abs":0.0},{"sample":"Co²⁺-S48T","seg":"L","wn":1637,"abs":-0.004},{"sample":"Co²⁺-S48T","seg":"L","wn":1636.2,"abs":-0.006},{"sample":"Co²⁺-S48T","seg":"L","wn":1635.5,"abs":-0.002},{"sample":"Co²⁺-S48T","seg":"L","wn":1634.8,"abs":0.01},{"sample":"Co²⁺-S48T","seg":"L","wn":1634.2,"abs":0.035},{"sample":"Co²⁺-S48T","seg":"L","wn":1633.5,"abs":0.07},{"sample":"Co²⁺-S48T","seg":"L","wn":1633,"abs":0.1},{"sample":"Co²⁺-S48T","seg":"L","wn":1632.6,"abs":0.142},{"sample":"Co²⁺-S48T","seg":"L","wn":1632.2,"abs":0.2},{"sample":"Co²⁺-S48T","seg":"L","wn":1631.8,"abs":0.27},{"sample":"Co²⁺-S48T","seg":"L","wn":1631.3,"abs":0.4},{"sample":"Co²⁺-S48T","seg":"L","wn":1630.8,"abs":0.516},{"sample":"Co²⁺-S48T","seg":"L","wn":1630,"abs":0.65},{"sample":"Co²⁺-S48T","seg":"L","wn":1629.3,"abs":0.766},{"sample":"Co²⁺-S48T","seg":"L","wn":1628.35,"abs":0.89},{"sample":"Co²⁺-S48T","seg":"L","wn":1627.8,"abs":0.97},{"sample":"Co²⁺-S48T","seg":"L","wn":1627.3,"abs":1.0},{"sample":"Co²⁺-S48T","seg":"L","wn":1626.8,"abs":0.96},{"sample":"Co²⁺-S48T","seg":"L","wn":1626.3,"abs":0.89},{"sample":"Co²⁺-S48T","seg":"L","wn":1625.7,"abs":0.766},{"sample":"Co²⁺-S48T","seg":"L","wn":1625.2,"abs":0.64},{"sample":"Co²⁺-S48T","seg":"L","wn":1624.75,"abs":0.516},{"sample":"Co²⁺-S48T","seg":"L","wn":1624.3,"abs":0.4},{"sample":"Co²⁺-S48T","seg":"L","wn":1624,"abs":0.3},{"sample":"Co²⁺-S48T","seg":"L","wn":1623.6,"abs":0.21},{"sample":"Co²⁺-S48T","seg":"L","wn":1623.3,"abs":0.142},{"sample":"Co²⁺-S48T","seg":"L","wn":1622.9,"abs":0.08},{"sample":"Co²⁺-S48T","seg":"L","wn":1622.5,"abs":0.04},{"sample":"Co²⁺-S48T","seg":"L","wn":1621.8,"abs":0.012},{"sample":"Co²⁺-S48T","seg":"L","wn":1621,"abs":0.003},{"sample":"Co²⁺-S48T","seg":"L","wn":1620,"abs":0.0},{"sample":"Co²⁺-S48T","seg":"L","wn":1618.9,"abs":0.0},
      {"sample":"Co²⁺-S48T","seg":"R","wn":1613.6,"abs":-0.005},{"sample":"Co²⁺-S48T","seg":"R","wn":1611,"abs":-0.002},{"sample":"Co²⁺-S48T","seg":"R","wn":1608,"abs":0.0},{"sample":"Co²⁺-S48T","seg":"R","wn":1605,"abs":0.0},{"sample":"Co²⁺-S48T","seg":"R","wn":1602,"abs":0.0},{"sample":"Co²⁺-S48T","seg":"R","wn":1599,"abs":0.0},{"sample":"Co²⁺-S48T","seg":"R","wn":1596,"abs":0.001},{"sample":"Co²⁺-S48T","seg":"R","wn":1594,"abs":0.0},{"sample":"Co²⁺-S48T","seg":"R","wn":1593,"abs":-0.002},{"sample":"Co²⁺-S48T","seg":"R","wn":1592.1,"abs":-0.006},{"sample":"Co²⁺-S48T","seg":"R","wn":1591.4,"abs":-0.015},{"sample":"Co²⁺-S48T","seg":"R","wn":1590.8,"abs":-0.03},{"sample":"Co²⁺-S48T","seg":"R","wn":1590.2,"abs":-0.06},{"sample":"Co²⁺-S48T","seg":"R","wn":1589.5,"abs":-0.11},{"sample":"Co²⁺-S48T","seg":"R","wn":1589,"abs":-0.16},{"sample":"Co²⁺-S48T","seg":"R","wn":1588.6,"abs":-0.23},{"sample":"Co²⁺-S48T","seg":"R","wn":1588.1,"abs":-0.31},{"sample":"Co²⁺-S48T","seg":"R","wn":1587.7,"abs":-0.39},{"sample":"Co²⁺-S48T","seg":"R","wn":1587.1,"abs":-0.54},{"sample":"Co²⁺-S48T","seg":"R","wn":1586.7,"abs":-0.62},{"sample":"Co²⁺-S48T","seg":"R","wn":1586.2,"abs":-0.73},{"sample":"Co²⁺-S48T","seg":"R","wn":1585.8,"abs":-0.82},{"sample":"Co²⁺-S48T","seg":"R","wn":1585.4,"abs":-0.9},{"sample":"Co²⁺-S48T","seg":"R","wn":1585,"abs":-0.965},{"sample":"Co²⁺-S48T","seg":"R","wn":1584.6,"abs":-1.0},{"sample":"Co²⁺-S48T","seg":"R","wn":1584.1,"abs":-0.985},{"sample":"Co²⁺-S48T","seg":"R","wn":1583.7,"abs":-0.94},{"sample":"Co²⁺-S48T","seg":"R","wn":1583.3,"abs":-0.86},{"sample":"Co²⁺-S48T","seg":"R","wn":1583,"abs":-0.78},{"sample":"Co²⁺-S48T","seg":"R","wn":1582.6,"abs":-0.69},{"sample":"Co²⁺-S48T","seg":"R","wn":1582.2,"abs":-0.6},{"sample":"Co²⁺-S48T","seg":"R","wn":1581.8,"abs":-0.5},{"sample":"Co²⁺-S48T","seg":"R","wn":1581.3,"abs":-0.36},{"sample":"Co²⁺-S48T","seg":"R","wn":1580.8,"abs":-0.28},{"sample":"Co²⁺-S48T","seg":"R","wn":1580.3,"abs":-0.23},{"sample":"Co²⁺-S48T","seg":"R","wn":1579.6,"abs":-0.18},{"sample":"Co²⁺-S48T","seg":"R","wn":1579,"abs":-0.145},{"sample":"Co²⁺-S48T","seg":"R","wn":1578.2,"abs":-0.11},{"sample":"Co²⁺-S48T","seg":"R","wn":1577.3,"abs":-0.08},{"sample":"Co²⁺-S48T","seg":"R","wn":1576.3,"abs":-0.05},{"sample":"Co²⁺-S48T","seg":"R","wn":1575.4,"abs":-0.025},{"sample":"Co²⁺-S48T","seg":"R","wn":1575,"abs":-0.018},

      {"sample":"Co²⁺-S48A","seg":"L","wn":1660,"abs":-0.045},{"sample":"Co²⁺-S48A","seg":"L","wn":1659,"abs":-0.03},{"sample":"Co²⁺-S48A","seg":"L","wn":1658.2,"abs":-0.012},{"sample":"Co²⁺-S48A","seg":"L","wn":1657.5,"abs":0.008},{"sample":"Co²⁺-S48A","seg":"L","wn":1656.7,"abs":0.03},{"sample":"Co²⁺-S48A","seg":"L","wn":1655.9,"abs":0.045},{"sample":"Co²⁺-S48A","seg":"L","wn":1655.4,"abs":0.05},{"sample":"Co²⁺-S48A","seg":"L","wn":1654.8,"abs":0.04},{"sample":"Co²⁺-S48A","seg":"L","wn":1654.2,"abs":0.015},{"sample":"Co²⁺-S48A","seg":"L","wn":1653.5,"abs":-0.02},{"sample":"Co²⁺-S48A","seg":"L","wn":1652.9,"abs":-0.06},{"sample":"Co²⁺-S48A","seg":"L","wn":1652.6,"abs":-0.07},{"sample":"Co²⁺-S48A","seg":"L","wn":1652.2,"abs":-0.055},{"sample":"Co²⁺-S48A","seg":"L","wn":1651.6,"abs":-0.02},{"sample":"Co²⁺-S48A","seg":"L","wn":1651.1,"abs":0.0},{"sample":"Co²⁺-S48A","seg":"L","wn":1650.3,"abs":0.01},{"sample":"Co²⁺-S48A","seg":"L","wn":1649.3,"abs":0.008},{"sample":"Co²⁺-S48A","seg":"L","wn":1648.5,"abs":0.005},{"sample":"Co²⁺-S48A","seg":"L","wn":1647.8,"abs":0.012},{"sample":"Co²⁺-S48A","seg":"L","wn":1647.2,"abs":0.025},{"sample":"Co²⁺-S48A","seg":"L","wn":1646.7,"abs":0.05},{"sample":"Co²⁺-S48A","seg":"L","wn":1646.2,"abs":0.085},{"sample":"Co²⁺-S48A","seg":"L","wn":1645.5,"abs":0.142},{"sample":"Co²⁺-S48A","seg":"L","wn":1645,"abs":0.22},{"sample":"Co²⁺-S48A","seg":"L","wn":1644.5,"abs":0.35},{"sample":"Co²⁺-S48A","seg":"L","wn":1643.9,"abs":0.516},{"sample":"Co²⁺-S48A","seg":"L","wn":1643.3,"abs":0.64},{"sample":"Co²⁺-S48A","seg":"L","wn":1642.7,"abs":0.766},{"sample":"Co²⁺-S48A","seg":"L","wn":1642,"abs":0.89},{"sample":"Co²⁺-S48A","seg":"L","wn":1641.5,"abs":0.97},{"sample":"Co²⁺-S48A","seg":"L","wn":1641,"abs":1.0},{"sample":"Co²⁺-S48A","seg":"L","wn":1640.6,"abs":0.965},{"sample":"Co²⁺-S48A","seg":"L","wn":1640.16,"abs":0.89},{"sample":"Co²⁺-S48A","seg":"L","wn":1639.57,"abs":0.766},{"sample":"Co²⁺-S48A","seg":"L","wn":1639.1,"abs":0.64},{"sample":"Co²⁺-S48A","seg":"L","wn":1638.6,"abs":0.516},{"sample":"Co²⁺-S48A","seg":"L","wn":1638,"abs":0.36},{"sample":"Co²⁺-S48A","seg":"L","wn":1637.5,"abs":0.24},{"sample":"Co²⁺-S48A","seg":"L","wn":1637,"abs":0.142},{"sample":"Co²⁺-S48A","seg":"L","wn":1636.5,"abs":0.06},{"sample":"Co²⁺-S48A","seg":"L","wn":1636,"abs":0.01},{"sample":"Co²⁺-S48A","seg":"L","wn":1635.5,"abs":-0.005},{"sample":"Co²⁺-S48A","seg":"L","wn":1634,"abs":-0.004},{"sample":"Co²⁺-S48A","seg":"L","wn":1632,"abs":-0.008},{"sample":"Co²⁺-S48A","seg":"L","wn":1630,"abs":-0.005},{"sample":"Co²⁺-S48A","seg":"L","wn":1628,"abs":-0.008},{"sample":"Co²⁺-S48A","seg":"L","wn":1626,"abs":-0.005},{"sample":"Co²⁺-S48A","seg":"L","wn":1624.5,"abs":-0.012},{"sample":"Co²⁺-S48A","seg":"L","wn":1623,"abs":-0.01},{"sample":"Co²⁺-S48A","seg":"L","wn":1621.5,"abs":-0.015},{"sample":"Co²⁺-S48A","seg":"L","wn":1620,"abs":-0.02},{"sample":"Co²⁺-S48A","seg":"L","wn":1618.9,"abs":-0.025},
      {"sample":"Co²⁺-S48A","seg":"R","wn":1613.6,"abs":-0.02},{"sample":"Co²⁺-S48A","seg":"R","wn":1612.8,"abs":-0.005},{"sample":"Co²⁺-S48A","seg":"R","wn":1612,"abs":0.007},{"sample":"Co²⁺-S48A","seg":"R","wn":1611.2,"abs":0.013},{"sample":"Co²⁺-S48A","seg":"R","wn":1610.7,"abs":0.014},{"sample":"Co²⁺-S48A","seg":"R","wn":1610,"abs":0.003},{"sample":"Co²⁺-S48A","seg":"R","wn":1609.2,"abs":-0.02},{"sample":"Co²⁺-S48A","seg":"R","wn":1608.7,"abs":-0.035},{"sample":"Co²⁺-S48A","seg":"R","wn":1608.3,"abs":-0.057},{"sample":"Co²⁺-S48A","seg":"R","wn":1607.7,"abs":-0.13},{"sample":"Co²⁺-S48A","seg":"R","wn":1607.2,"abs":-0.165},{"sample":"Co²⁺-S48A","seg":"R","wn":1606.8,"abs":-0.195},{"sample":"Co²⁺-S48A","seg":"R","wn":1606.2,"abs":-0.24},{"sample":"Co²⁺-S48A","seg":"R","wn":1605.6,"abs":-0.29},{"sample":"Co²⁺-S48A","seg":"R","wn":1605,"abs":-0.35},{"sample":"Co²⁺-S48A","seg":"R","wn":1604.6,"abs":-0.39},{"sample":"Co²⁺-S48A","seg":"R","wn":1603.9,"abs":-0.48},{"sample":"Co²⁺-S48A","seg":"R","wn":1603.6,"abs":-0.53},{"sample":"Co²⁺-S48A","seg":"R","wn":1603.1,"abs":-0.6},{"sample":"Co²⁺-S48A","seg":"R","wn":1602.8,"abs":-0.69},{"sample":"Co²⁺-S48A","seg":"R","wn":1602.4,"abs":-0.76},{"sample":"Co²⁺-S48A","seg":"R","wn":1601.9,"abs":-0.83},{"sample":"Co²⁺-S48A","seg":"R","wn":1601.4,"abs":-0.9},{"sample":"Co²⁺-S48A","seg":"R","wn":1601,"abs":-0.96},{"sample":"Co²⁺-S48A","seg":"R","wn":1600.5,"abs":-0.99},{"sample":"Co²⁺-S48A","seg":"R","wn":1600,"abs":-1.0},{"sample":"Co²⁺-S48A","seg":"R","wn":1599.5,"abs":-0.98},{"sample":"Co²⁺-S48A","seg":"R","wn":1599,"abs":-0.95},{"sample":"Co²⁺-S48A","seg":"R","wn":1598.4,"abs":-0.87},{"sample":"Co²⁺-S48A","seg":"R","wn":1597.7,"abs":-0.78},{"sample":"Co²⁺-S48A","seg":"R","wn":1597,"abs":-0.71},{"sample":"Co²⁺-S48A","seg":"R","wn":1596.4,"abs":-0.65},{"sample":"Co²⁺-S48A","seg":"R","wn":1596,"abs":-0.6},{"sample":"Co²⁺-S48A","seg":"R","wn":1595.25,"abs":-0.53},{"sample":"Co²⁺-S48A","seg":"R","wn":1594.6,"abs":-0.48},{"sample":"Co²⁺-S48A","seg":"R","wn":1594.1,"abs":-0.43},{"sample":"Co²⁺-S48A","seg":"R","wn":1593.3,"abs":-0.36},{"sample":"Co²⁺-S48A","seg":"R","wn":1592.5,"abs":-0.28},{"sample":"Co²⁺-S48A","seg":"R","wn":1591.8,"abs":-0.25},{"sample":"Co²⁺-S48A","seg":"R","wn":1591.1,"abs":-0.23},{"sample":"Co²⁺-S48A","seg":"R","wn":1590.5,"abs":-0.2},{"sample":"Co²⁺-S48A","seg":"R","wn":1590,"abs":-0.19},{"sample":"Co²⁺-S48A","seg":"R","wn":1589.3,"abs":-0.17},{"sample":"Co²⁺-S48A","seg":"R","wn":1588.6,"abs":-0.157},{"sample":"Co²⁺-S48A","seg":"R","wn":1587.9,"abs":-0.145},{"sample":"Co²⁺-S48A","seg":"R","wn":1587.2,"abs":-0.13},{"sample":"Co²⁺-S48A","seg":"R","wn":1586.4,"abs":-0.105},{"sample":"Co²⁺-S48A","seg":"R","wn":1585.6,"abs":-0.082},{"sample":"Co²⁺-S48A","seg":"R","wn":1584.9,"abs":-0.04},{"sample":"Co²⁺-S48A","seg":"R","wn":1584.2,"abs":-0.007},{"sample":"Co²⁺-S48A","seg":"R","wn":1583.5,"abs":0.02},{"sample":"Co²⁺-S48A","seg":"R","wn":1583,"abs":0.04},{"sample":"Co²⁺-S48A","seg":"R","wn":1582,"abs":0.055},{"sample":"Co²⁺-S48A","seg":"R","wn":1581.1,"abs":0.05},{"sample":"Co²⁺-S48A","seg":"R","wn":1580.3,"abs":0.055},{"sample":"Co²⁺-S48A","seg":"R","wn":1579.3,"abs":0.045},{"sample":"Co²⁺-S48A","seg":"R","wn":1578.3,"abs":0.037},{"sample":"Co²⁺-S48A","seg":"R","wn":1577.5,"abs":0.028},{"sample":"Co²⁺-S48A","seg":"R","wn":1577,"abs":0.02},{"sample":"Co²⁺-S48A","seg":"R","wn":1576.5,"abs":-0.03},{"sample":"Co²⁺-S48A","seg":"R","wn":1576.1,"abs":-0.075},{"sample":"Co²⁺-S48A","seg":"R","wn":1575.6,"abs":-0.055},{"sample":"Co²⁺-S48A","seg":"R","wn":1575,"abs":-0.03}
    ]
  },
  "encoding": {
    "x": {
      "field": "wn", "type": "quantitative",
      "scale": {"domain": [1575, 1660], "reverse": true, "nice": false, "zero": false},
      "axis": null
    },
    "y": {
      "field": "abs", "type": "quantitative",
      "scale": {"domain": [-1.2075, 1.215], "nice": false, "zero": false},
      "axis": null
    },
    "detail": {"field": "seg"}
  },
  "layer": [
    {
      "transform": [{"filter": {"field": "sample", "equal": "wild type"}}],
      "mark": {"type": "line", "strokeWidth": 2.5, "interpolate": "monotone"},
      "encoding": {
        "x": {
          "field": "wn", "type": "quantitative",
          "scale": {"domain": [1575, 1660], "reverse": true, "nice": false, "zero": false},
          "axis": {"orient": "bottom", "values": [1580, 1600, 1620, 1640, 1660], "format": "d", "title": "Wavenumber / cm⁻¹", "titlePadding": 22, "titleX": 443}
        },
        "y": {
          "field": "abs", "type": "quantitative",
          "scale": {"domain": [-1.2075, 1.215], "nice": false, "zero": false},
          "axis": {"orient": "left", "values": [-1, -0.5, 0, 0.5, 1], "labelPadding": 19, "labelExpr": "(datum.value < 0 ? '-' : '') + format(abs(datum.value), '.1f')", "title": "Normalized absorbance", "titlePadding": 26, "titleY": 345}
        },
        "color": {
          "field": "sample", "type": "nominal",
          "scale": {"domain": ["wild type"], "range": ["#000000"]},
          "legend": {"legendX": 477.5, "legendY": 34, "labelColor": "#000000", "symbolFillColor": "#000000"}
        }
      }
    },
    {
      "transform": [{"filter": {"field": "sample", "equal": "Co²⁺-LADH"}}],
      "mark": {"type": "line", "strokeWidth": 2.5, "interpolate": "monotone"},
      "encoding": {
        "x": {
          "field": "wn", "type": "quantitative",
          "scale": {"domain": [1575, 1660], "reverse": true, "nice": false, "zero": false},
          "axis": {"orient": "top", "values": [1580, 1600, 1620, 1640, 1660], "labels": false, "title": null}
        },
        "y": {
          "field": "abs", "type": "quantitative",
          "scale": {"domain": [-1.2075, 1.215], "nice": false, "zero": false},
          "axis": {"orient": "right", "values": [-1, -0.5, 0, 0.5, 1], "labels": false, "title": null}
        },
        "color": {
          "field": "sample", "type": "nominal",
          "scale": {"domain": ["Co²⁺-LADH"], "range": ["#ff0000"]},
          "legend": {"legendX": 652.5, "legendY": 34, "labelColor": "#ff0000", "symbolFillColor": "#ff0000"}
        }
      }
    },
    {
      "transform": [{"filter": {"field": "sample", "equal": "Cd²⁺-LADH"}}],
      "mark": {"type": "line", "strokeWidth": 2.5, "interpolate": "monotone"},
      "encoding": {
        "color": {
          "field": "sample", "type": "nominal",
          "scale": {"domain": ["Cd²⁺-LADH"], "range": ["#00cc00"]},
          "legend": {"legendX": 417.5, "legendY": 72, "labelColor": "#00cc00", "symbolFillColor": "#00cc00"}
        }
      }
    },
    {
      "transform": [{"filter": {"field": "sample", "equal": "S48T"}}],
      "mark": {"type": "line", "strokeWidth": 2.5, "interpolate": "monotone"},
      "encoding": {
        "color": {
          "field": "sample", "type": "nominal",
          "scale": {"domain": ["S48T"], "range": ["#ff8040"]},
          "legend": {"legendX": 607.5, "legendY": 72, "labelColor": "#ff8040", "symbolFillColor": "#ff8040"}
        }
      }
    },
    {
      "transform": [{"filter": {"field": "sample", "equal": "S48A"}}],
      "mark": {"type": "line", "strokeWidth": 2.5, "interpolate": "monotone"},
      "encoding": {
        "color": {
          "field": "sample", "type": "nominal",
          "scale": {"domain": ["S48A"], "range": ["#0000ff"]},
          "legend": {"legendX": 724.5, "legendY": 72, "labelColor": "#0000ff", "symbolFillColor": "#0000ff"}
        }
      }
    },
    {
      "transform": [{"filter": {"field": "sample", "equal": "Co²⁺-S48T"}}],
      "mark": {"type": "line", "strokeWidth": 2.5, "interpolate": "monotone"},
      "encoding": {
        "color": {
          "field": "sample", "type": "nominal",
          "scale": {"domain": ["Co²⁺-S48T"], "range": ["#ff00cc"]},
          "legend": {"legendX": 461.5, "legendY": 110, "labelColor": "#ff00cc", "symbolFillColor": "#ff00cc"}
        }
      }
    },
    {
      "transform": [{"filter": {"field": "sample", "equal": "Co²⁺-S48A"}}],
      "mark": {"type": "line", "strokeWidth": 2.5, "interpolate": "monotone"},
      "encoding": {
        "color": {
          "field": "sample", "type": "nominal",
          "scale": {"domain": ["Co²⁺-S48A"], "range": ["#45bdfa"]},
          "legend": {"legendX": 657.5, "legendY": 110, "labelColor": "#45bdfa", "symbolFillColor": "#45bdfa"}
        }
      }
    }
  ],
  "resolve": {"scale": {"color": "independent"}}
}
